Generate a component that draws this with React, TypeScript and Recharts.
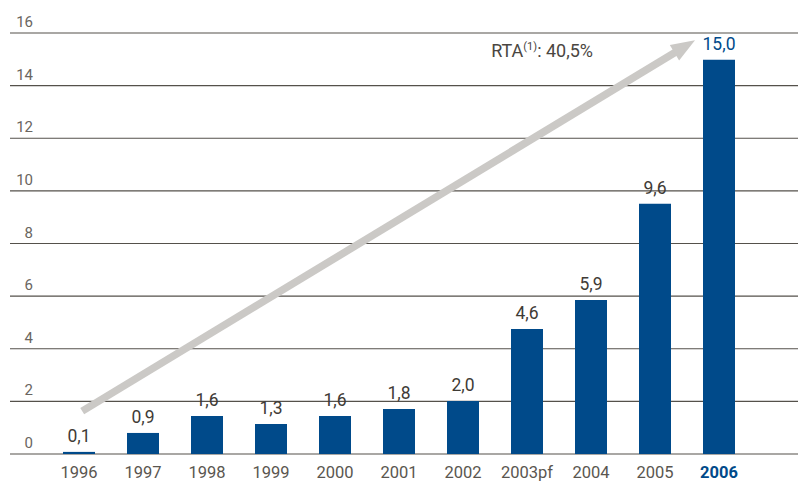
import React from 'react';
import { BarChart, Bar, XAxis, YAxis, CartesianGrid, ReferenceLine, ReferenceDot, LabelList } from 'recharts';

const years = ['1996', '1997', '1998', '1999', '2000', '2001', '2002', '2003pf', '2004', '2005', '2006'];
const barValues = [0.08, 0.8, 1.44, 1.14, 1.44, 1.71, 2.01, 4.75, 5.85, 9.51, 14.98];
const valueLabels = ['0,1', '0,9', '1,6', '1,3', '1,6', '1,8', '2,0', '4,6', '5,9', '9,6', '15,0'];
const yTicks = [0, 2, 4, 6, 8, 10, 12, 14, 16];
const highlightYear = '2006';
const cagrText = 'RTA';
const cagrNote = '(1)';
const cagrValue = ': 40,5%';
// arrow / annotation in category-index units (bar i sits at i)
const arrowFrom = { x: 0.05, y: 1.63 };
const arrowTo = { x: 9.625, y: 15.72 };
const cagrAnchor = { x: 6.44, y: 15.09 };
const indexDomain = [0, 10];

const data = years.map((year, i) => ({ year, idx: i, value: barValues[i], label: valueLabels[i] }));

const FONT = 'Roboto, "Noto Sans", sans-serif';
const BLUE = '#004a8a';
const ARROW = '#cbc9c6';

const Arrow = (p: any) => {
  const x1 = p.x1, y1 = p.y1, x2 = p.x2, y2 = p.y2;
  if ([x1, y1, x2, y2].some((v) => typeof v !== 'number' || isNaN(v))) return <g />;
  const dx = x2 - x1, dy = y2 - y1;
  const len = Math.hypot(dx, dy);
  const ux = dx / len, uy = dy / len;
  const nx = -uy, ny = ux;
  const head = 24, half = 9;
  const bx = x2 - ux * head, by = y2 - uy * head;
  return (
    <g>
      <line x1={x1} y1={y1} x2={bx + ux * 2} y2={by + uy * 2} stroke={ARROW} strokeWidth={7.5} />
      <polygon
        points={`${x2},${y2} ${bx + nx * half},${by + ny * half} ${bx - nx * half},${by - ny * half}`}
        fill={ARROW}
      />
    </g>
  );
};

const CagrLabel = (p: any) => (
  <text x={p.cx} y={p.cy} fontSize={18} fill="#4a4641" fontFamily={FONT}>
    {cagrText}
    <tspan fontSize={11} dy={-7}>{cagrNote}</tspan>
    <tspan dy={7}>{cagrValue}</tspan>
  </text>
);

const YTick = (p: any) => (
  <text x={33} y={p.y - 6} textAnchor="end" fontSize={15} fill="#6a6560" fontFamily={FONT}>
    {p.payload.value}
  </text>
);

const XTick = (p: any) => {
  const hi = p.payload.value === highlightYear;
  return (
    <text
      x={p.x}
      y={478}
      textAnchor="middle"
      fontSize={16.5}
      fontWeight={hi ? 'bold' : 'normal'}
      fill={hi ? BLUE : '#5a5650'}
      fontFamily={FONT}
    >
      {p.payload.value}
    </text>
  );
};

const ValueLabel = (p: any) => {
  const { x, y, width, value, index } = p;
  const hi = index === years.length - 1;
  return (
    <text x={x + width / 2} y={y - 10} textAnchor="middle" fontSize={17.5} fill={hi ? BLUE : '#3f3b36'} fontFamily={FONT}>
      {value}
    </text>
  );
};

export default function App() {
  return (
    <div style={{ position: 'absolute', left: 0, top: 0, width: 798, height: 481, background: '#fff' }}>
      <BarChart width={798} height={481} data={data} margin={{ top: 33, right: 0, bottom: 0, left: 0 }}>
        <CartesianGrid horizontal vertical={false} stroke="#55514b" strokeWidth={1.2} xAxisId="cat" />
        <XAxis
          xAxisId="cat"
          dataKey="year"
          height={27}
          axisLine={false}
          tickLine={false}
          padding={{ left: 37, right: 47 }}
          tick={XTick}
          interval={0}
        />
        <XAxis
          xAxisId="num"
          dataKey="idx"
          type="number"
          domain={indexDomain}
          hide
          padding={{ left: 69, right: 79 }}
          allowDataOverflow
        />
        <YAxis
          domain={[0, 16]}
          ticks={yTicks}
          width={10}
          axisLine={false}
          tickLine={false}
          tick={YTick}
          interval={0}
        />
        <ReferenceLine xAxisId="num" segment={[arrowFrom, arrowTo]} shape={Arrow} ifOverflow="visible" />
        <ReferenceDot
          xAxisId="num"
          x={cagrAnchor.x}
          y={cagrAnchor.y}
          r={0}
          shape={CagrLabel}
          ifOverflow="visible"
        />
        <Bar xAxisId="cat" dataKey="value" fill={BLUE} barSize={32} isAnimationActive={false}>
          <LabelList dataKey="label" content={ValueLabel} />
        </Bar>
      </BarChart>
    </div>
  );
}
